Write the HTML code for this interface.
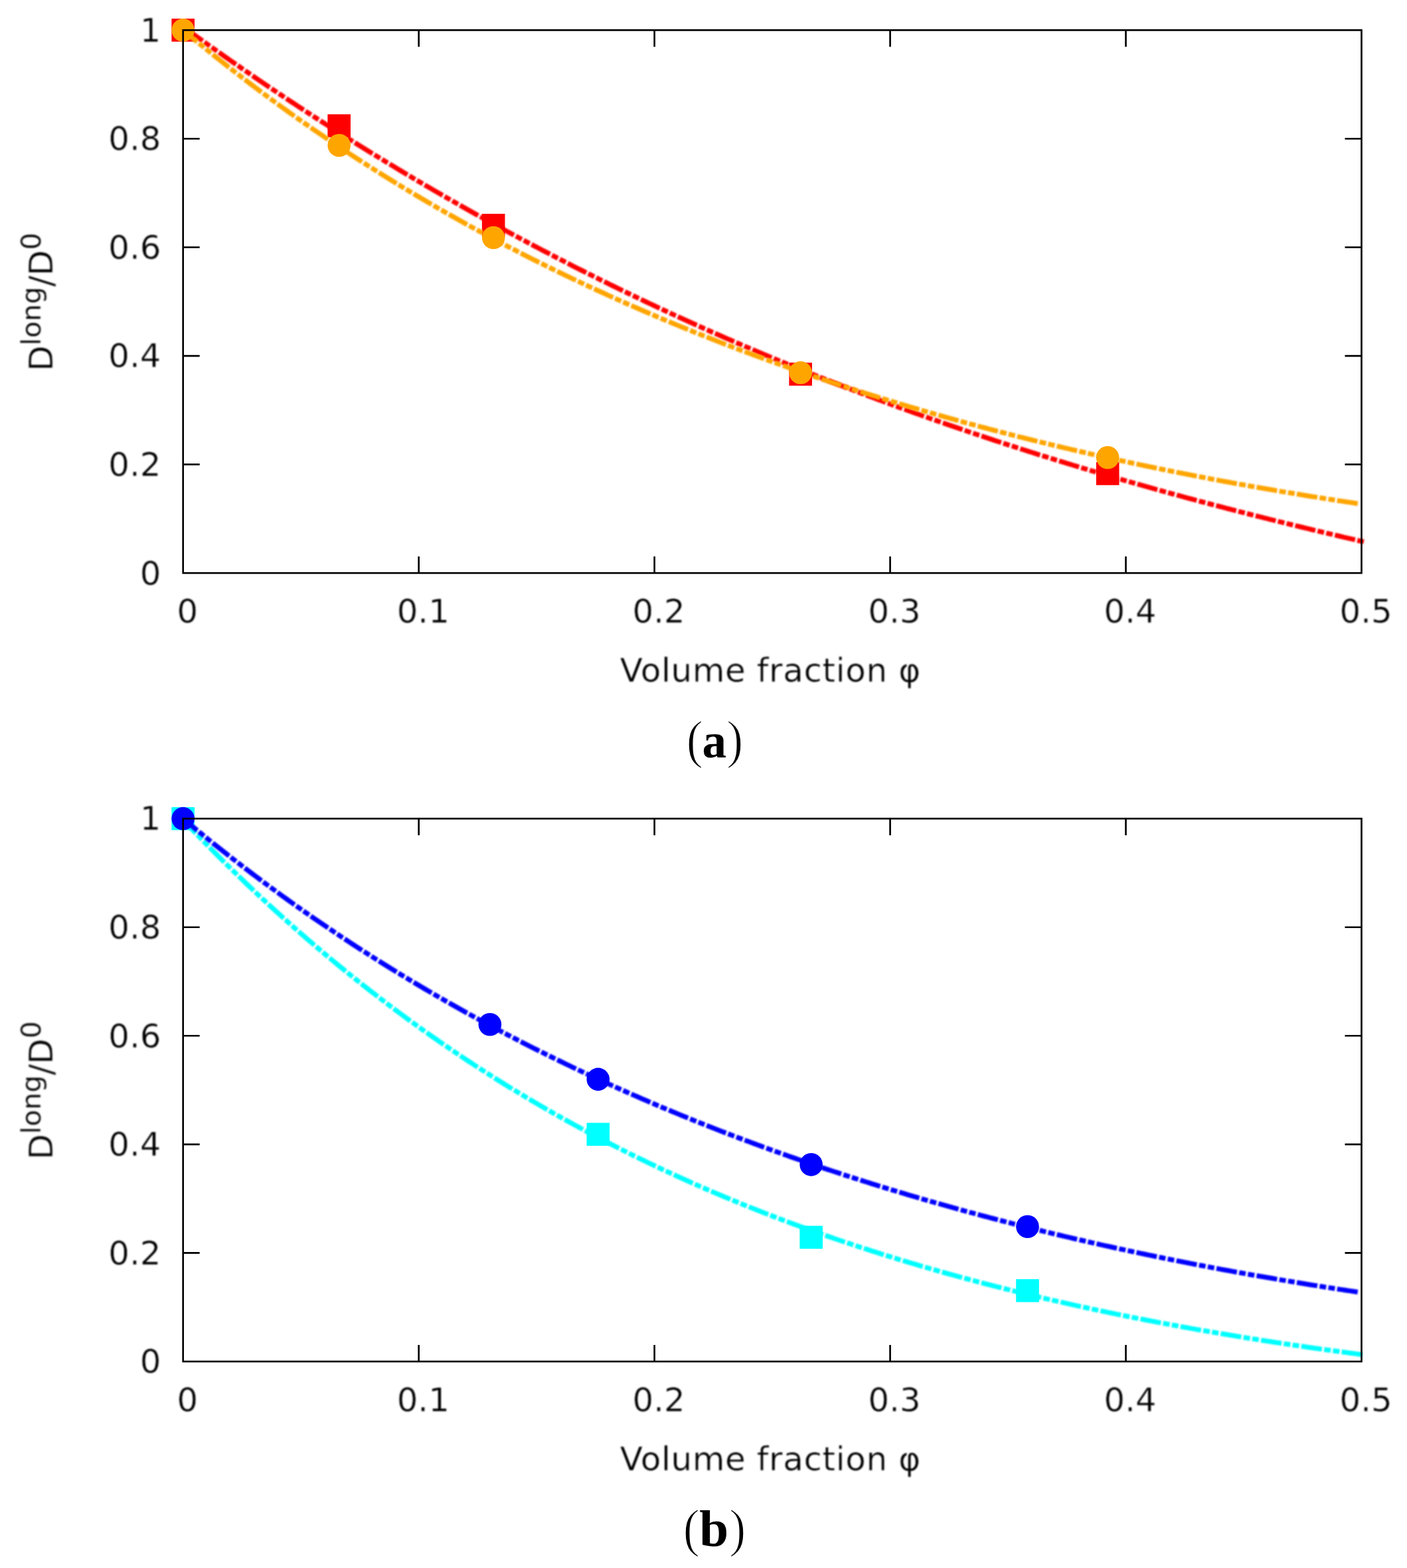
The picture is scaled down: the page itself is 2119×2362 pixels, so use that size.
<!DOCTYPE html>
<html lang="en">
<head>
<meta charset="utf-8">
<title>Long-time diffusion vs volume fraction</title>
<style>
html,body{margin:0;padding:0;background:#ffffff;}
body{width:2119px;height:2362px;overflow:hidden;}
svg{display:block;}
</style>
</head>
<body>
<svg width="2119" height="2362" viewBox="0 0 2119 2362">
<defs>
<filter id="soft" filterUnits="userSpaceOnUse" x="0" y="-20" width="2119" height="1230" color-interpolation-filters="sRGB"><feGaussianBlur stdDeviation="0.80"/></filter>
<filter id="softt" filterUnits="userSpaceOnUse" x="0" y="-20" width="2119" height="1230" color-interpolation-filters="sRGB"><feGaussianBlur stdDeviation="0.90"/></filter>
</defs>
<rect x="0" y="0" width="2119" height="2362" fill="#ffffff"/>
<g><path filter="url(#soft)" d="M279.71,43.26 L282.67,45.40 L284.57,46.78 L289.01,49.98 L293.45,53.17 L297.88,56.35 L302.32,59.53 L306.76,62.70 L311.20,65.86 L315.63,69.02 L320.07,72.16 L324.51,75.30 L328.94,78.43 L333.38,81.55 L337.82,84.66 L342.25,87.77 L346.69,90.87 L351.13,93.96 L355.57,97.04 L360.00,100.12 L364.44,103.18 L368.88,106.24 L373.31,109.29 L377.75,112.34 L382.19,115.37 L386.62,118.40 L391.06,121.42 L395.50,124.43 L399.94,127.44 L404.37,130.44 L408.81,133.42 L413.25,136.41 L417.68,139.38 L422.12,142.35 L426.56,145.31 L431.00,148.26 L435.43,151.20 L439.87,154.14 L444.31,157.06 L448.74,159.98 L453.18,162.90 L457.62,165.80 L462.05,168.70 L466.49,171.59 L470.93,174.47 L475.37,177.35 L479.80,180.22 L484.24,183.08 L488.68,185.93 L493.11,188.77 L497.55,191.61 L501.99,194.44 L506.42,197.26 L510.86,200.08 L515.30,202.89 L519.74,205.69 L524.17,208.48 L528.61,211.27 L533.05,214.04 L537.48,216.81 L541.92,219.58 L546.36,222.33 L550.79,225.08 L555.23,227.82 L559.67,230.56 L564.11,233.28 L568.54,236.00 L572.98,238.72 L577.42,241.42 L581.85,244.12 L586.29,246.81 L590.73,249.49 L595.16,252.17 L599.60,254.83 L604.04,257.50 L608.47,260.15 L612.91,262.80 L617.35,265.44 L621.79,268.07 L626.22,270.69 L630.66,273.31 L635.10,275.92 L639.53,278.53 L643.97,281.12 L648.41,283.71 L652.85,286.29 L657.28,288.87 L661.72,291.44 L666.16,294.00 L670.59,296.55 L675.03,299.10 L679.47,301.64 L683.90,304.17 L688.34,306.70 L692.78,309.22 L697.22,311.73 L701.65,314.24 L706.09,316.74 L710.53,319.23 L714.96,321.71 L719.40,324.19 L723.84,326.66 L728.27,329.12 L732.71,331.58 L737.15,334.03 L741.59,336.47 L746.02,338.91 L750.46,341.34 L754.90,343.76 L759.33,346.18 L763.77,348.59 L768.21,350.99 L772.64,353.38 L777.08,355.77 L781.52,358.15 L785.96,360.53 L790.39,362.90 L794.83,365.26 L799.27,367.61 L803.70,369.96 L808.14,372.30 L812.58,374.64 L817.01,376.97 L821.45,379.29 L825.89,381.60 L830.33,383.91 L834.76,386.21 L839.20,388.51 L843.64,390.80 L848.07,393.08 L852.51,395.35 L856.95,397.62 L861.38,399.89 L865.82,402.14 L870.26,404.39 L874.69,406.63 L879.13,408.87 L883.57,411.10 L888.01,413.32 L892.44,415.54 L896.88,417.75 L901.32,419.95 L905.75,422.15 L910.19,424.34 L914.63,426.53 L919.07,428.71 L923.50,430.88 L927.94,433.05 L932.38,435.21 L936.81,437.36 L941.25,439.51 L945.69,441.65 L950.12,443.78 L954.56,445.91 L959.00,448.03 L963.43,450.15 L967.87,452.26 L972.31,454.36 L976.75,456.46 L981.18,458.55 L985.62,460.63 L990.06,462.71 L994.49,464.78 L998.93,466.85 L1003.37,468.91 L1007.81,470.96 L1012.24,473.01 L1016.68,475.05 L1021.12,477.09 L1025.55,479.12 L1029.99,481.14 L1034.43,483.16 L1038.86,485.17 L1043.30,487.18 L1047.74,489.18 L1052.17,491.17 L1056.61,493.16 L1061.05,495.14 L1065.49,497.11 L1069.92,499.08 L1074.36,501.05 L1078.80,503.01 L1083.23,504.96 L1087.67,506.90 L1092.11,508.84 L1096.55,510.78 L1100.98,512.71 L1105.42,514.63 L1109.86,516.55 L1114.29,518.46 L1118.73,520.36 L1123.17,522.26 L1127.60,524.16 L1132.04,526.05 L1136.48,527.93 L1140.91,529.81 L1145.35,531.68 L1149.79,533.54 L1154.23,535.40 L1158.66,537.26 L1163.10,539.11 L1167.54,540.95 L1171.97,542.79 L1176.41,544.62 L1180.85,546.44 L1185.28,548.26 L1189.72,550.08 L1194.16,551.89 L1198.60,553.69 L1203.03,555.49 L1207.47,557.28 L1211.91,559.07 L1216.34,560.85 L1220.78,562.63 L1225.22,564.40 L1229.65,566.17 L1234.09,567.93 L1238.53,569.68 L1242.97,571.43 L1247.40,573.17 L1251.84,574.91 L1256.28,576.65 L1260.71,578.37 L1265.15,580.10 L1269.59,581.81 L1274.02,583.53 L1278.46,585.23 L1282.90,586.93 L1287.34,588.63 L1291.77,590.32 L1296.21,592.01 L1300.65,593.69 L1305.08,595.36 L1309.52,597.03 L1313.96,598.70 L1318.39,600.36 L1322.83,602.01 L1327.27,603.66 L1331.71,605.31 L1336.14,606.95 L1340.58,608.58 L1345.02,610.21 L1349.45,611.84 L1353.89,613.46 L1358.33,615.07 L1362.77,616.68 L1367.20,618.28 L1371.64,619.88 L1376.08,621.48 L1380.51,623.07 L1384.95,624.65 L1389.39,626.23 L1393.82,627.81 L1398.26,629.37 L1402.70,630.94 L1407.14,632.50 L1411.57,634.06 L1416.01,635.61 L1420.45,637.15 L1424.88,638.69 L1429.32,640.23 L1433.76,641.76 L1438.19,643.29 L1442.63,644.81 L1447.07,646.32 L1451.50,647.84 L1455.94,649.34 L1460.38,650.85 L1464.82,652.35 L1469.25,653.84 L1473.69,655.33 L1478.13,656.81 L1482.56,658.29 L1487.00,659.77 L1491.44,661.24 L1495.88,662.70 L1500.31,664.17 L1504.75,665.62 L1509.19,667.08 L1513.62,668.52 L1518.06,669.97 L1522.50,671.41 L1526.93,672.84 L1531.37,674.27 L1535.81,675.70 L1540.25,677.12 L1544.68,678.54 L1549.12,679.95 L1553.56,681.36 L1557.99,682.76 L1562.43,684.16 L1566.87,685.56 L1571.30,686.95 L1575.74,688.33 L1580.18,689.72 L1584.62,691.09 L1589.05,692.47 L1593.49,693.84 L1597.93,695.20 L1602.36,696.57 L1606.80,697.92 L1611.24,699.28 L1615.67,700.62 L1620.11,701.97 L1624.55,703.31 L1628.99,704.65 L1633.42,705.98 L1637.86,707.31 L1642.30,708.63 L1646.73,709.95 L1651.17,711.27 L1655.61,712.58 L1660.04,713.89 L1664.48,715.19 L1668.92,716.49 L1673.36,717.79 L1677.79,719.08 L1682.23,720.37 L1686.67,721.66 L1691.10,722.94 L1695.54,724.22 L1699.98,725.49 L1704.41,726.76 L1708.85,728.02 L1713.29,729.29 L1717.72,730.54 L1722.16,731.80 L1726.60,733.05 L1731.04,734.30 L1735.47,735.54 L1739.91,736.78 L1744.35,738.02 L1748.78,739.25 L1753.22,740.48 L1757.66,741.70 L1762.10,742.92 L1766.53,744.14 L1770.97,745.35 L1775.41,746.56 L1779.84,747.77 L1784.28,748.98 L1788.72,750.18 L1793.15,751.37 L1797.59,752.56 L1802.03,753.75 L1806.47,754.94 L1810.90,756.12 L1815.34,757.30 L1819.78,758.48 L1824.21,759.65 L1828.65,760.82 L1833.09,761.99 L1837.52,763.15 L1841.96,764.31 L1846.40,765.46 L1850.84,766.62 L1855.27,767.77 L1859.71,768.91 L1864.15,770.05 L1868.58,771.19 L1873.02,772.33 L1877.46,773.46 L1881.89,774.59 L1886.33,775.72 L1890.77,776.84 L1895.20,777.97 L1899.64,779.08 L1904.08,780.20 L1908.52,781.31 L1912.95,782.42 L1917.39,783.52 L1921.83,784.63 L1926.26,785.72 L1930.70,786.82 L1935.14,787.91 L1939.58,789.00 L1944.01,790.09 L1948.45,791.18 L1952.89,792.26 L1957.32,793.34 L1961.76,794.41 L1966.20,795.49 L1970.63,796.56 L1975.07,797.63 L1979.51,798.69 L1983.94,799.75 L1988.38,800.81 L1992.82,801.87 L1997.26,802.92 L2001.69,803.97 L2006.13,805.02 L2010.57,806.07 L2015.00,807.11 L2019.44,808.15 L2023.88,809.19 L2028.32,810.22 L2032.75,811.26 L2037.19,812.29 L2041.63,813.31 L2046.06,814.34 L2050.50,815.36 L2054.06,816.18" fill="none" stroke="#ff0000" stroke-width="7.30" stroke-dasharray="31.36 3.38 9.97 3.38 9.97 3.38" stroke-dashoffset="0.00" stroke-linejoin="round"/><rect x="258.40" y="28.10" width="34.60" height="34.60" fill="#ff0000"/><rect x="493.38" y="172.20" width="34.60" height="34.60" fill="#ff0000"/><rect x="725.88" y="322.10" width="34.60" height="34.60" fill="#ff0000"/><rect x="1188.40" y="546.34" width="34.60" height="34.60" fill="#ff0000"/><rect x="1650.91" y="696.16" width="34.60" height="34.60" fill="#ff0000"/><path filter="url(#soft)" d="M272.90,43.06 L275.70,45.40 L280.14,49.11 L284.57,52.81 L289.01,56.49 L293.45,60.15 L297.88,63.80 L302.32,67.43 L306.76,71.04 L311.20,74.64 L315.63,78.22 L320.07,81.79 L324.51,85.34 L328.94,88.88 L333.38,92.40 L337.82,95.90 L342.25,99.39 L346.69,102.86 L351.13,106.32 L355.57,109.76 L360.00,113.19 L364.44,116.60 L368.88,120.00 L373.31,123.38 L377.75,126.75 L382.19,130.10 L386.62,133.44 L391.06,136.76 L395.50,140.07 L399.94,143.37 L404.37,146.65 L408.81,149.91 L413.25,153.17 L417.68,156.40 L422.12,159.63 L426.56,162.84 L431.00,166.03 L435.43,169.22 L439.87,172.38 L444.31,175.54 L448.74,178.68 L453.18,181.81 L457.62,184.92 L462.05,188.02 L466.49,191.11 L470.93,194.18 L475.37,197.24 L479.80,200.29 L484.24,203.32 L488.68,206.34 L493.11,209.35 L497.55,212.35 L501.99,215.33 L506.42,218.30 L510.86,221.25 L515.30,224.20 L519.74,227.13 L524.17,230.05 L528.61,232.96 L533.05,235.85 L537.48,238.73 L541.92,241.60 L546.36,244.46 L550.79,247.30 L555.23,250.14 L559.67,252.96 L564.11,255.77 L568.54,258.56 L572.98,261.35 L577.42,264.12 L581.85,266.88 L586.29,269.63 L590.73,272.37 L595.16,275.10 L599.60,277.81 L604.04,280.52 L608.47,283.21 L612.91,285.89 L617.35,288.56 L621.79,291.22 L626.22,293.87 L630.66,296.50 L635.10,299.13 L639.53,301.74 L643.97,304.34 L648.41,306.93 L652.85,309.52 L657.28,312.09 L661.72,314.65 L666.16,317.19 L670.59,319.73 L675.03,322.26 L679.47,324.78 L683.90,327.28 L688.34,329.78 L692.78,332.26 L697.22,334.74 L701.65,337.20 L706.09,339.66 L710.53,342.10 L714.96,344.53 L719.40,346.96 L723.84,349.37 L728.27,351.78 L732.71,354.17 L737.15,356.55 L741.59,358.93 L746.02,361.29 L750.46,363.64 L754.90,365.99 L759.33,368.32 L763.77,370.65 L768.21,372.96 L772.64,375.27 L777.08,377.56 L781.52,379.85 L785.96,382.13 L790.39,384.39 L794.83,386.65 L799.27,388.90 L803.70,391.14 L808.14,393.37 L812.58,395.59 L817.01,397.80 L821.45,400.00 L825.89,402.20 L830.33,404.38 L834.76,406.56 L839.20,408.72 L843.64,410.88 L848.07,413.03 L852.51,415.17 L856.95,417.30 L861.38,419.42 L865.82,421.53 L870.26,423.64 L874.69,425.73 L879.13,427.82 L883.57,429.90 L888.01,431.97 L892.44,434.03 L896.88,436.08 L901.32,438.13 L905.75,440.16 L910.19,442.19 L914.63,444.21 L919.07,446.22 L923.50,448.22 L927.94,450.22 L932.38,452.20 L936.81,454.18 L941.25,456.15 L945.69,458.11 L950.12,460.07 L954.56,462.01 L959.00,463.95 L963.43,465.88 L967.87,467.80 L972.31,469.72 L976.75,471.62 L981.18,473.52 L985.62,475.41 L990.06,477.29 L994.49,479.17 L998.93,481.03 L1003.37,482.89 L1007.81,484.74 L1012.24,486.59 L1016.68,488.42 L1021.12,490.25 L1025.55,492.07 L1029.99,493.89 L1034.43,495.69 L1038.86,497.49 L1043.30,499.29 L1047.74,501.07 L1052.17,502.85 L1056.61,504.62 L1061.05,506.38 L1065.49,508.13 L1069.92,509.88 L1074.36,511.62 L1078.80,513.35 L1083.23,515.08 L1087.67,516.80 L1092.11,518.51 L1096.55,520.22 L1100.98,521.91 L1105.42,523.60 L1109.86,525.29 L1114.29,526.97 L1118.73,528.64 L1123.17,530.30 L1127.60,531.95 L1132.04,533.60 L1136.48,535.25 L1140.91,536.88 L1145.35,538.51 L1149.79,540.13 L1154.23,541.75 L1158.66,543.36 L1163.10,544.96 L1167.54,546.56 L1171.97,548.15 L1176.41,549.73 L1180.85,551.30 L1185.28,552.87 L1189.72,554.44 L1194.16,555.99 L1198.60,557.54 L1203.03,559.09 L1207.47,560.62 L1211.91,562.15 L1216.34,563.68 L1220.78,565.20 L1225.22,566.71 L1229.65,568.21 L1234.09,569.71 L1238.53,571.21 L1242.97,572.69 L1247.40,574.17 L1251.84,575.65 L1256.28,577.12 L1260.71,578.58 L1265.15,580.03 L1269.59,581.48 L1274.02,582.93 L1278.46,584.37 L1282.90,585.80 L1287.34,587.22 L1291.77,588.64 L1296.21,590.06 L1300.65,591.47 L1305.08,592.87 L1309.52,594.27 L1313.96,595.66 L1318.39,597.04 L1322.83,598.42 L1327.27,599.79 L1331.71,601.16 L1336.14,602.52 L1340.58,603.88 L1345.02,605.23 L1349.45,606.57 L1353.89,607.91 L1358.33,609.24 L1362.77,610.57 L1367.20,611.89 L1371.64,613.21 L1376.08,614.52 L1380.51,615.83 L1384.95,617.13 L1389.39,618.42 L1393.82,619.71 L1398.26,620.99 L1402.70,622.27 L1407.14,623.54 L1411.57,624.81 L1416.01,626.07 L1420.45,627.33 L1424.88,628.58 L1429.32,629.82 L1433.76,631.06 L1438.19,632.30 L1442.63,633.53 L1447.07,634.75 L1451.50,635.97 L1455.94,637.19 L1460.38,638.40 L1464.82,639.60 L1469.25,640.80 L1473.69,641.99 L1478.13,643.18 L1482.56,644.36 L1487.00,645.54 L1491.44,646.71 L1495.88,647.88 L1500.31,649.05 L1504.75,650.20 L1509.19,651.36 L1513.62,652.50 L1518.06,653.65 L1522.50,654.79 L1526.93,655.92 L1531.37,657.05 L1535.81,658.17 L1540.25,659.29 L1544.68,660.40 L1549.12,661.51 L1553.56,662.62 L1557.99,663.71 L1562.43,664.81 L1566.87,665.90 L1571.30,666.98 L1575.74,668.06 L1580.18,669.14 L1584.62,670.21 L1589.05,671.28 L1593.49,672.34 L1597.93,673.39 L1602.36,674.45 L1606.80,675.49 L1611.24,676.54 L1615.67,677.57 L1620.11,678.61 L1624.55,679.64 L1628.99,680.66 L1633.42,681.68 L1637.86,682.70 L1642.30,683.71 L1646.73,684.72 L1651.17,685.72 L1655.61,686.72 L1660.04,687.71 L1664.48,688.70 L1668.92,689.68 L1673.36,690.66 L1677.79,691.64 L1682.23,692.61 L1686.67,693.58 L1691.10,694.54 L1695.54,695.50 L1699.98,696.45 L1704.41,697.40 L1708.85,698.35 L1713.29,699.29 L1717.72,700.22 L1722.16,701.16 L1726.60,702.08 L1731.04,703.01 L1735.47,703.93 L1739.91,704.85 L1744.35,705.76 L1748.78,706.66 L1753.22,707.57 L1757.66,708.47 L1762.10,709.36 L1766.53,710.25 L1770.97,711.14 L1775.41,712.02 L1779.84,712.90 L1784.28,713.78 L1788.72,714.65 L1793.15,715.52 L1797.59,716.38 L1802.03,717.24 L1806.47,718.09 L1810.90,718.94 L1815.34,719.79 L1819.78,720.64 L1824.21,721.47 L1828.65,722.31 L1833.09,723.14 L1837.52,723.97 L1841.96,724.79 L1846.40,725.61 L1850.84,726.43 L1855.27,727.24 L1859.71,728.05 L1864.15,728.86 L1868.58,729.66 L1873.02,730.45 L1877.46,731.25 L1881.89,732.04 L1886.33,732.82 L1890.77,733.61 L1895.20,734.38 L1899.64,735.16 L1904.08,735.93 L1908.52,736.70 L1912.95,737.46 L1917.39,738.22 L1921.83,738.98 L1926.26,739.73 L1930.70,740.48 L1935.14,741.23 L1939.58,741.97 L1944.01,742.71 L1948.45,743.45 L1952.89,744.18 L1957.32,744.91 L1961.76,745.63 L1966.20,746.35 L1970.63,747.07 L1975.07,747.78 L1979.51,748.50 L1983.94,749.20 L1988.38,749.91 L1992.82,750.61 L1997.26,751.30 L2001.69,752.00 L2006.13,752.69 L2010.57,753.38 L2015.00,754.06 L2019.44,754.74 L2023.88,755.42 L2028.32,756.09 L2032.75,756.76 L2037.19,757.43 L2041.63,758.09 L2046.06,758.75 L2048.03,759.04" fill="none" stroke="#ffa500" stroke-width="7.30" stroke-dasharray="31.36 3.38 9.97 3.38 9.97 3.38" stroke-dashoffset="0.00" stroke-linejoin="round"/><circle cx="275.70" cy="45.40" r="17.30" fill="#ffa500"/><circle cx="510.68" cy="218.94" r="17.30" fill="#ffa500"/><circle cx="743.18" cy="357.96" r="17.30" fill="#ffa500"/><circle cx="1205.70" cy="561.43" r="17.30" fill="#ffa500"/><circle cx="1668.21" cy="689.25" r="17.30" fill="#ffa500"/><rect x="275.70" y="45.40" width="1774.80" height="817.80" fill="none" stroke="#000" stroke-width="2.65"/><path d="M630.66,863.20 v-25.00 M630.66,45.40 v25.00 M985.62,863.20 v-25.00 M985.62,45.40 v25.00 M1340.58,863.20 v-25.00 M1340.58,45.40 v25.00 M1695.54,863.20 v-25.00 M1695.54,45.40 v25.00 M275.70,699.64 h25.00 M2050.50,699.64 h-25.00 M275.70,536.08 h25.00 M2050.50,536.08 h-25.00 M275.70,372.52 h25.00 M2050.50,372.52 h-25.00 M275.70,208.96 h25.00 M2050.50,208.96 h-25.00" fill="none" stroke="#000" stroke-width="2.65"/><g filter="url(#softt)" font-family='"DejaVu Sans", "Liberation Sans", sans-serif' font-size="49.80" fill="#000" stroke="#fff" stroke-width="0.50"><text x="242.50" y="880.50" text-anchor="end">0</text><text x="242.50" y="716.94" text-anchor="end">0.2</text><text x="242.50" y="553.38" text-anchor="end">0.4</text><text x="242.50" y="389.82" text-anchor="end">0.6</text><text x="242.50" y="226.26" text-anchor="end">0.8</text><text x="242.50" y="62.70" text-anchor="end">1</text><text x="282.30" y="938.30" text-anchor="middle">0</text><text x="637.26" y="938.30" text-anchor="middle">0.1</text><text x="992.22" y="938.30" text-anchor="middle">0.2</text><text x="1347.18" y="938.30" text-anchor="middle">0.3</text><text x="1702.14" y="938.30" text-anchor="middle">0.4</text><text x="2057.10" y="938.30" text-anchor="middle">0.5</text><text x="1160.30" y="1027.10" text-anchor="middle" font-size="50.00" letter-spacing="0.60">Volume fraction φ</text><text transform="translate(79.10,559.00) rotate(-90)" text-anchor="start" font-size="50.00" letter-spacing="0.00">D<tspan dy="-18.50" font-size="41.00" stroke-width="0.30">long</tspan><tspan dy="18.50" font-size="50.00">/D</tspan><tspan dy="-18.50" font-size="41.00" stroke-width="0.30">0</tspan></text></g></g>
<g transform="translate(0,1187.75)"><path filter="url(#soft)" d="M273.19,44.68 L275.70,47.33 L280.14,52.02 L284.57,56.68 L289.01,61.33 L293.45,65.95 L297.88,70.55 L302.32,75.13 L306.76,79.68 L311.20,84.22 L315.63,88.73 L320.07,93.22 L324.51,97.69 L328.94,102.14 L333.38,106.57 L337.82,110.98 L342.25,115.37 L346.69,119.73 L351.13,124.08 L355.57,128.40 L360.00,132.70 L364.44,136.99 L368.88,141.25 L373.31,145.49 L377.75,149.71 L382.19,153.92 L386.62,158.10 L391.06,162.26 L395.50,166.40 L399.94,170.52 L404.37,174.62 L408.81,178.71 L413.25,182.77 L417.68,186.81 L422.12,190.83 L426.56,194.84 L431.00,198.82 L435.43,202.79 L439.87,206.73 L444.31,210.66 L448.74,214.57 L453.18,218.46 L457.62,222.33 L462.05,226.18 L466.49,230.01 L470.93,233.82 L475.37,237.62 L479.80,241.39 L484.24,245.15 L488.68,248.89 L493.11,252.61 L497.55,256.32 L501.99,260.00 L506.42,263.67 L510.86,267.32 L515.30,270.95 L519.74,274.56 L524.17,278.16 L528.61,281.73 L533.05,285.29 L537.48,288.84 L541.92,292.36 L546.36,295.87 L550.79,299.36 L555.23,302.83 L559.67,306.29 L564.11,309.73 L568.54,313.15 L572.98,316.55 L577.42,319.94 L581.85,323.31 L586.29,326.66 L590.73,330.00 L595.16,333.32 L599.60,336.62 L604.04,339.91 L608.47,343.18 L612.91,346.44 L617.35,349.68 L621.79,352.90 L626.22,356.10 L630.66,359.29 L635.10,362.47 L639.53,365.63 L643.97,368.77 L648.41,371.89 L652.85,375.00 L657.28,378.10 L661.72,381.18 L666.16,384.24 L670.59,387.29 L675.03,390.32 L679.47,393.34 L683.90,396.34 L688.34,399.33 L692.78,402.30 L697.22,405.26 L701.65,408.20 L706.09,411.13 L710.53,414.04 L714.96,416.94 L719.40,419.82 L723.84,422.69 L728.27,425.54 L732.71,428.38 L737.15,431.20 L741.59,434.01 L746.02,436.81 L750.46,439.59 L754.90,442.36 L759.33,445.11 L763.77,447.85 L768.21,450.57 L772.64,453.28 L777.08,455.98 L781.52,458.66 L785.96,461.33 L790.39,463.99 L794.83,466.63 L799.27,469.26 L803.70,471.87 L808.14,474.47 L812.58,477.06 L817.01,479.63 L821.45,482.20 L825.89,484.74 L830.33,487.28 L834.76,489.80 L839.20,492.31 L843.64,494.80 L848.07,497.29 L852.51,499.76 L856.95,502.21 L861.38,504.66 L865.82,507.09 L870.26,509.51 L874.69,511.91 L879.13,514.31 L883.57,516.69 L888.01,519.06 L892.44,521.41 L896.88,523.76 L901.32,526.09 L905.75,528.41 L910.19,530.72 L914.63,533.01 L919.07,535.30 L923.50,537.57 L927.94,539.83 L932.38,542.08 L936.81,544.31 L941.25,546.54 L945.69,548.75 L950.12,550.95 L954.56,553.14 L959.00,555.32 L963.43,557.49 L967.87,559.64 L972.31,561.79 L976.75,563.92 L981.18,566.04 L985.62,568.15 L990.06,570.25 L994.49,572.34 L998.93,574.42 L1003.37,576.48 L1007.81,578.54 L1012.24,580.58 L1016.68,582.62 L1021.12,584.64 L1025.55,586.65 L1029.99,588.65 L1034.43,590.64 L1038.86,592.63 L1043.30,594.60 L1047.74,596.56 L1052.17,598.50 L1056.61,600.44 L1061.05,602.37 L1065.49,604.29 L1069.92,606.20 L1074.36,608.10 L1078.80,609.99 L1083.23,611.87 L1087.67,613.73 L1092.11,615.59 L1096.55,617.44 L1100.98,619.28 L1105.42,621.11 L1109.86,622.93 L1114.29,624.74 L1118.73,626.54 L1123.17,628.33 L1127.60,630.11 L1132.04,631.88 L1136.48,633.64 L1140.91,635.40 L1145.35,637.14 L1149.79,638.87 L1154.23,640.60 L1158.66,642.31 L1163.10,644.02 L1167.54,645.72 L1171.97,647.41 L1176.41,649.08 L1180.85,650.76 L1185.28,652.42 L1189.72,654.07 L1194.16,655.71 L1198.60,657.35 L1203.03,658.97 L1207.47,660.59 L1211.91,662.20 L1216.34,663.80 L1220.78,665.39 L1225.22,666.98 L1229.65,668.55 L1234.09,670.12 L1238.53,671.68 L1242.97,673.23 L1247.40,674.77 L1251.84,676.30 L1256.28,677.83 L1260.71,679.34 L1265.15,680.85 L1269.59,682.35 L1274.02,683.85 L1278.46,685.33 L1282.90,686.81 L1287.34,688.28 L1291.77,689.74 L1296.21,691.19 L1300.65,692.64 L1305.08,694.07 L1309.52,695.50 L1313.96,696.93 L1318.39,698.34 L1322.83,699.75 L1327.27,701.15 L1331.71,702.54 L1336.14,703.93 L1340.58,705.30 L1345.02,706.67 L1349.45,708.04 L1353.89,709.39 L1358.33,710.74 L1362.77,712.08 L1367.20,713.41 L1371.64,714.74 L1376.08,716.06 L1380.51,717.37 L1384.95,718.68 L1389.39,719.98 L1393.82,721.27 L1398.26,722.55 L1402.70,723.83 L1407.14,725.10 L1411.57,726.37 L1416.01,727.62 L1420.45,728.87 L1424.88,730.12 L1429.32,731.36 L1433.76,732.59 L1438.19,733.81 L1442.63,735.03 L1447.07,736.24 L1451.50,737.44 L1455.94,738.64 L1460.38,739.83 L1464.82,741.02 L1469.25,742.20 L1473.69,743.37 L1478.13,744.54 L1482.56,745.70 L1487.00,746.85 L1491.44,748.00 L1495.88,749.14 L1500.31,750.28 L1504.75,751.40 L1509.19,752.53 L1513.62,753.65 L1518.06,754.76 L1522.50,755.86 L1526.93,756.96 L1531.37,758.06 L1535.81,759.14 L1540.25,760.23 L1544.68,761.30 L1549.12,762.37 L1553.56,763.44 L1557.99,764.50 L1562.43,765.55 L1566.87,766.60 L1571.30,767.64 L1575.74,768.68 L1580.18,769.71 L1584.62,770.73 L1589.05,771.75 L1593.49,772.77 L1597.93,773.78 L1602.36,774.78 L1606.80,775.78 L1611.24,776.77 L1615.67,777.76 L1620.11,778.74 L1624.55,779.72 L1628.99,780.69 L1633.42,781.66 L1637.86,782.62 L1642.30,783.58 L1646.73,784.53 L1651.17,785.48 L1655.61,786.42 L1660.04,787.35 L1664.48,788.29 L1668.92,789.21 L1673.36,790.13 L1677.79,791.05 L1682.23,791.96 L1686.67,792.87 L1691.10,793.77 L1695.54,794.67 L1699.98,795.56 L1704.41,796.45 L1708.85,797.33 L1713.29,798.21 L1717.72,799.08 L1722.16,799.95 L1726.60,800.81 L1731.04,801.67 L1735.47,802.53 L1739.91,803.38 L1744.35,804.22 L1748.78,805.06 L1753.22,805.90 L1757.66,806.73 L1762.10,807.56 L1766.53,808.38 L1770.97,809.20 L1775.41,810.01 L1779.84,810.82 L1784.28,811.63 L1788.72,812.43 L1793.15,813.23 L1797.59,814.02 L1802.03,814.81 L1806.47,815.59 L1810.90,816.37 L1815.34,817.15 L1819.78,817.92 L1824.21,818.68 L1828.65,819.45 L1833.09,820.20 L1837.52,820.96 L1841.96,821.71 L1846.40,822.46 L1850.84,823.20 L1855.27,823.94 L1859.71,824.67 L1864.15,825.40 L1868.58,826.13 L1873.02,826.85 L1877.46,827.57 L1881.89,828.28 L1886.33,828.99 L1890.77,829.70 L1895.20,830.40 L1899.64,831.10 L1904.08,831.80 L1908.52,832.49 L1912.95,833.17 L1917.39,833.86 L1921.83,834.54 L1926.26,835.21 L1930.70,835.88 L1935.14,836.55 L1939.58,837.22 L1944.01,837.88 L1948.45,838.54 L1952.89,839.19 L1957.32,839.84 L1961.76,840.48 L1966.20,841.13 L1970.63,841.77 L1975.07,842.40 L1979.51,843.03 L1983.94,843.66 L1988.38,844.29 L1992.82,844.91 L1997.26,845.52 L2001.69,846.14 L2006.13,846.75 L2010.57,847.35 L2015.00,847.96 L2019.44,848.56 L2023.88,849.15 L2028.32,849.75 L2032.75,850.34 L2037.19,850.92 L2041.63,851.50 L2046.06,852.08 L2050.50,852.66 L2054.12,853.13" fill="none" stroke="#00ffff" stroke-width="7.30" stroke-dasharray="31.36 3.38 9.97 3.38 9.97 3.38" stroke-dashoffset="0.00" stroke-linejoin="round"/><rect x="258.40" y="28.10" width="34.60" height="34.60" fill="#00ffff"/><rect x="883.48" y="503.65" width="34.60" height="34.60" fill="#00ffff"/><rect x="1204.37" y="658.79" width="34.60" height="34.60" fill="#00ffff"/><rect x="1530.22" y="739.10" width="34.60" height="34.60" fill="#00ffff"/><path filter="url(#soft)" d="M272.90,43.06 L275.70,45.40 L280.14,49.11 L284.57,52.81 L289.01,56.49 L293.45,60.15 L297.88,63.80 L302.32,67.43 L306.76,71.04 L311.20,74.64 L315.63,78.22 L320.07,81.79 L324.51,85.34 L328.94,88.88 L333.38,92.40 L337.82,95.90 L342.25,99.39 L346.69,102.86 L351.13,106.32 L355.57,109.76 L360.00,113.19 L364.44,116.60 L368.88,120.00 L373.31,123.38 L377.75,126.75 L382.19,130.10 L386.62,133.44 L391.06,136.76 L395.50,140.07 L399.94,143.37 L404.37,146.65 L408.81,149.91 L413.25,153.17 L417.68,156.40 L422.12,159.63 L426.56,162.84 L431.00,166.03 L435.43,169.22 L439.87,172.38 L444.31,175.54 L448.74,178.68 L453.18,181.81 L457.62,184.92 L462.05,188.02 L466.49,191.11 L470.93,194.18 L475.37,197.24 L479.80,200.29 L484.24,203.32 L488.68,206.34 L493.11,209.35 L497.55,212.35 L501.99,215.33 L506.42,218.30 L510.86,221.25 L515.30,224.20 L519.74,227.13 L524.17,230.05 L528.61,232.96 L533.05,235.85 L537.48,238.73 L541.92,241.60 L546.36,244.46 L550.79,247.30 L555.23,250.14 L559.67,252.96 L564.11,255.77 L568.54,258.56 L572.98,261.35 L577.42,264.12 L581.85,266.88 L586.29,269.63 L590.73,272.37 L595.16,275.10 L599.60,277.81 L604.04,280.52 L608.47,283.21 L612.91,285.89 L617.35,288.56 L621.79,291.22 L626.22,293.87 L630.66,296.50 L635.10,299.13 L639.53,301.74 L643.97,304.34 L648.41,306.93 L652.85,309.52 L657.28,312.09 L661.72,314.65 L666.16,317.19 L670.59,319.73 L675.03,322.26 L679.47,324.78 L683.90,327.28 L688.34,329.78 L692.78,332.26 L697.22,334.74 L701.65,337.20 L706.09,339.66 L710.53,342.10 L714.96,344.53 L719.40,346.96 L723.84,349.37 L728.27,351.78 L732.71,354.17 L737.15,356.55 L741.59,358.93 L746.02,361.29 L750.46,363.64 L754.90,365.99 L759.33,368.32 L763.77,370.65 L768.21,372.96 L772.64,375.27 L777.08,377.56 L781.52,379.85 L785.96,382.13 L790.39,384.39 L794.83,386.65 L799.27,388.90 L803.70,391.14 L808.14,393.37 L812.58,395.59 L817.01,397.80 L821.45,400.00 L825.89,402.20 L830.33,404.38 L834.76,406.56 L839.20,408.72 L843.64,410.88 L848.07,413.03 L852.51,415.17 L856.95,417.30 L861.38,419.42 L865.82,421.53 L870.26,423.64 L874.69,425.73 L879.13,427.82 L883.57,429.90 L888.01,431.97 L892.44,434.03 L896.88,436.08 L901.32,438.13 L905.75,440.16 L910.19,442.19 L914.63,444.21 L919.07,446.22 L923.50,448.22 L927.94,450.22 L932.38,452.20 L936.81,454.18 L941.25,456.15 L945.69,458.11 L950.12,460.07 L954.56,462.01 L959.00,463.95 L963.43,465.88 L967.87,467.80 L972.31,469.72 L976.75,471.62 L981.18,473.52 L985.62,475.41 L990.06,477.29 L994.49,479.17 L998.93,481.03 L1003.37,482.89 L1007.81,484.74 L1012.24,486.59 L1016.68,488.42 L1021.12,490.25 L1025.55,492.07 L1029.99,493.89 L1034.43,495.69 L1038.86,497.49 L1043.30,499.29 L1047.74,501.07 L1052.17,502.85 L1056.61,504.62 L1061.05,506.38 L1065.49,508.13 L1069.92,509.88 L1074.36,511.62 L1078.80,513.35 L1083.23,515.08 L1087.67,516.80 L1092.11,518.51 L1096.55,520.22 L1100.98,521.91 L1105.42,523.60 L1109.86,525.29 L1114.29,526.97 L1118.73,528.64 L1123.17,530.30 L1127.60,531.95 L1132.04,533.60 L1136.48,535.25 L1140.91,536.88 L1145.35,538.51 L1149.79,540.13 L1154.23,541.75 L1158.66,543.36 L1163.10,544.96 L1167.54,546.56 L1171.97,548.15 L1176.41,549.73 L1180.85,551.30 L1185.28,552.87 L1189.72,554.44 L1194.16,555.99 L1198.60,557.54 L1203.03,559.09 L1207.47,560.62 L1211.91,562.15 L1216.34,563.68 L1220.78,565.20 L1225.22,566.71 L1229.65,568.21 L1234.09,569.71 L1238.53,571.21 L1242.97,572.69 L1247.40,574.17 L1251.84,575.65 L1256.28,577.12 L1260.71,578.58 L1265.15,580.03 L1269.59,581.48 L1274.02,582.93 L1278.46,584.37 L1282.90,585.80 L1287.34,587.22 L1291.77,588.64 L1296.21,590.06 L1300.65,591.47 L1305.08,592.87 L1309.52,594.27 L1313.96,595.66 L1318.39,597.04 L1322.83,598.42 L1327.27,599.79 L1331.71,601.16 L1336.14,602.52 L1340.58,603.88 L1345.02,605.23 L1349.45,606.57 L1353.89,607.91 L1358.33,609.24 L1362.77,610.57 L1367.20,611.89 L1371.64,613.21 L1376.08,614.52 L1380.51,615.83 L1384.95,617.13 L1389.39,618.42 L1393.82,619.71 L1398.26,620.99 L1402.70,622.27 L1407.14,623.54 L1411.57,624.81 L1416.01,626.07 L1420.45,627.33 L1424.88,628.58 L1429.32,629.82 L1433.76,631.06 L1438.19,632.30 L1442.63,633.53 L1447.07,634.75 L1451.50,635.97 L1455.94,637.19 L1460.38,638.40 L1464.82,639.60 L1469.25,640.80 L1473.69,641.99 L1478.13,643.18 L1482.56,644.36 L1487.00,645.54 L1491.44,646.71 L1495.88,647.88 L1500.31,649.05 L1504.75,650.20 L1509.19,651.36 L1513.62,652.50 L1518.06,653.65 L1522.50,654.79 L1526.93,655.92 L1531.37,657.05 L1535.81,658.17 L1540.25,659.29 L1544.68,660.40 L1549.12,661.51 L1553.56,662.62 L1557.99,663.71 L1562.43,664.81 L1566.87,665.90 L1571.30,666.98 L1575.74,668.06 L1580.18,669.14 L1584.62,670.21 L1589.05,671.28 L1593.49,672.34 L1597.93,673.39 L1602.36,674.45 L1606.80,675.49 L1611.24,676.54 L1615.67,677.57 L1620.11,678.61 L1624.55,679.64 L1628.99,680.66 L1633.42,681.68 L1637.86,682.70 L1642.30,683.71 L1646.73,684.72 L1651.17,685.72 L1655.61,686.72 L1660.04,687.71 L1664.48,688.70 L1668.92,689.68 L1673.36,690.66 L1677.79,691.64 L1682.23,692.61 L1686.67,693.58 L1691.10,694.54 L1695.54,695.50 L1699.98,696.45 L1704.41,697.40 L1708.85,698.35 L1713.29,699.29 L1717.72,700.22 L1722.16,701.16 L1726.60,702.08 L1731.04,703.01 L1735.47,703.93 L1739.91,704.85 L1744.35,705.76 L1748.78,706.66 L1753.22,707.57 L1757.66,708.47 L1762.10,709.36 L1766.53,710.25 L1770.97,711.14 L1775.41,712.02 L1779.84,712.90 L1784.28,713.78 L1788.72,714.65 L1793.15,715.52 L1797.59,716.38 L1802.03,717.24 L1806.47,718.09 L1810.90,718.94 L1815.34,719.79 L1819.78,720.64 L1824.21,721.47 L1828.65,722.31 L1833.09,723.14 L1837.52,723.97 L1841.96,724.79 L1846.40,725.61 L1850.84,726.43 L1855.27,727.24 L1859.71,728.05 L1864.15,728.86 L1868.58,729.66 L1873.02,730.45 L1877.46,731.25 L1881.89,732.04 L1886.33,732.82 L1890.77,733.61 L1895.20,734.38 L1899.64,735.16 L1904.08,735.93 L1908.52,736.70 L1912.95,737.46 L1917.39,738.22 L1921.83,738.98 L1926.26,739.73 L1930.70,740.48 L1935.14,741.23 L1939.58,741.97 L1944.01,742.71 L1948.45,743.45 L1952.89,744.18 L1957.32,744.91 L1961.76,745.63 L1966.20,746.35 L1970.63,747.07 L1975.07,747.78 L1979.51,748.50 L1983.94,749.20 L1988.38,749.91 L1992.82,750.61 L1997.26,751.30 L2001.69,752.00 L2006.13,752.69 L2010.57,753.38 L2015.00,754.06 L2019.44,754.74 L2023.88,755.42 L2028.32,756.09 L2032.75,756.76 L2037.19,757.43 L2041.63,758.09 L2046.06,758.75 L2048.03,759.04" fill="none" stroke="#0000ff" stroke-width="7.30" stroke-dasharray="31.36 3.38 9.97 3.38 9.97 3.38" stroke-dashoffset="0.00" stroke-linejoin="round"/><circle cx="275.70" cy="45.40" r="17.30" fill="#0000ff"/><circle cx="737.86" cy="355.43" r="17.30" fill="#0000ff"/><circle cx="900.78" cy="438.11" r="17.30" fill="#0000ff"/><circle cx="1221.67" cy="566.58" r="17.30" fill="#0000ff"/><circle cx="1547.52" cy="660.06" r="17.30" fill="#0000ff"/><rect x="275.70" y="45.40" width="1774.80" height="817.80" fill="none" stroke="#000" stroke-width="2.65"/><path d="M630.66,863.20 v-25.00 M630.66,45.40 v25.00 M985.62,863.20 v-25.00 M985.62,45.40 v25.00 M1340.58,863.20 v-25.00 M1340.58,45.40 v25.00 M1695.54,863.20 v-25.00 M1695.54,45.40 v25.00 M275.70,699.64 h25.00 M2050.50,699.64 h-25.00 M275.70,536.08 h25.00 M2050.50,536.08 h-25.00 M275.70,372.52 h25.00 M2050.50,372.52 h-25.00 M275.70,208.96 h25.00 M2050.50,208.96 h-25.00" fill="none" stroke="#000" stroke-width="2.65"/><g filter="url(#softt)" font-family='"DejaVu Sans", "Liberation Sans", sans-serif' font-size="49.80" fill="#000" stroke="#fff" stroke-width="0.50"><text x="242.50" y="880.50" text-anchor="end">0</text><text x="242.50" y="716.94" text-anchor="end">0.2</text><text x="242.50" y="553.38" text-anchor="end">0.4</text><text x="242.50" y="389.82" text-anchor="end">0.6</text><text x="242.50" y="226.26" text-anchor="end">0.8</text><text x="242.50" y="62.70" text-anchor="end">1</text><text x="282.30" y="938.30" text-anchor="middle">0</text><text x="637.26" y="938.30" text-anchor="middle">0.1</text><text x="992.22" y="938.30" text-anchor="middle">0.2</text><text x="1347.18" y="938.30" text-anchor="middle">0.3</text><text x="1702.14" y="938.30" text-anchor="middle">0.4</text><text x="2057.10" y="938.30" text-anchor="middle">0.5</text><text x="1160.30" y="1027.10" text-anchor="middle" font-size="50.00" letter-spacing="0.60">Volume fraction φ</text><text transform="translate(79.10,559.00) rotate(-90)" text-anchor="start" font-size="50.00" letter-spacing="0.00">D<tspan dy="-18.50" font-size="41.00" stroke-width="0.30">long</tspan><tspan dy="18.50" font-size="50.00">/D</tspan><tspan dy="-18.50" font-size="41.00" stroke-width="0.30">0</tspan></text></g></g>
<text y="1140.90" font-family='"Liberation Serif", "DejaVu Serif", serif' font-size="80.80" fill="#000" stroke="#fff" stroke-width="1.40"><tspan x="1033.70" textLength="25.02" lengthAdjust="spacingAndGlyphs">(</tspan><tspan x="1057.50" y="1140.80" font-weight="bold" font-size="73.00" stroke="none">a</tspan><tspan x="1094.30" y="1140.90" textLength="25.02" lengthAdjust="spacingAndGlyphs">)</tspan></text><text y="2328.90" font-family='"Liberation Serif", "DejaVu Serif", serif' font-size="80.80" fill="#000" stroke="#fff" stroke-width="1.40"><tspan x="1028.70" textLength="25.02" lengthAdjust="spacingAndGlyphs">(</tspan><tspan x="1053.20" y="2329.20" font-weight="bold" font-size="79.00" stroke="none">b</tspan><tspan x="1098.30" y="2328.90" textLength="25.02" lengthAdjust="spacingAndGlyphs">)</tspan></text>
</svg>
</body>
</html>
